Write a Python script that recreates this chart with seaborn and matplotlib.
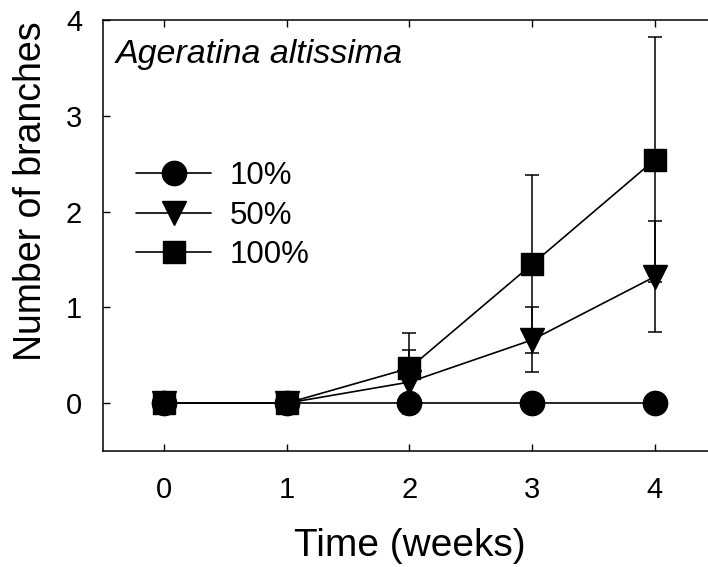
import numpy as np
import pandas as pd
import matplotlib
matplotlib.use("Agg")
import matplotlib.pyplot as plt
import seaborn as sns

weeks = [0, 1, 2, 3, 4]
series_names = ["10%", "50%", "100%"]
branches_10 = [0.0, 0.0, 0.0, 0.0, 0.0]
branches_50 = [0.0, 0.0, 0.22, 0.66, 1.32]
branches_100 = [0.0, 0.0, 0.365, 1.45, 2.54]
err_10 = [0.0, 0.0, 0.0, 0.0, 0.0]
err_50 = [0.0, 0.0, 0.33, 0.34, 0.58]
err_100 = [0.0, 0.0, 0.365, 0.93, 1.28]
x_ticks = [0, 1, 2, 3, 4]
y_ticks = [0, 1, 2, 3, 4]

sns.set_style("ticks")
plt.rcParams["font.family"] = ["Liberation Sans", "DejaVu Sans"]
plt.rcParams["text.color"] = "black"
plt.rcParams["axes.labelcolor"] = "black"
plt.rcParams["xtick.color"] = "black"
plt.rcParams["ytick.color"] = "black"

fig = plt.figure(figsize=(7.08, 5.67), dpi=100)
ax = fig.add_axes([103 / 708, 116 / 567, 613 / 708, 431 / 567])

vals = [branches_10, branches_50, branches_100]
errs = [err_10, err_50, err_100]
markers = ["o", "v", "s"]
msizes = [17.5, 17.5, 16.5]

rows = []
for name, v, e in zip(series_names, vals, errs):
    for w, yv, ev in zip(weeks, v, e):
        rows.append({"week": w, "branches": yv, "err": ev, "conc": name})
df = pd.DataFrame(rows)

# error bars first (behind markers)
for name in series_names:
    d = df[df["conc"] == name]
    ax.errorbar(d["week"], d["branches"], yerr=d["err"], fmt="none",
                ecolor="black", elinewidth=1.1, capsize=5, capthick=1.1, zorder=2)

for name, m, ms in zip(series_names, markers, msizes):
    d = df[df["conc"] == name]
    sns.lineplot(data=d, x="week", y="branches", ax=ax, color="black",
                 marker=m, markersize=ms, markeredgewidth=1,
                 markerfacecolor="black", markeredgecolor="black",
                 linewidth=1.2, label=name, zorder=3)

ax.set_xlim(-0.5, 4.5)
ax.set_ylim(-0.5, 4)
ax.set_xticks(x_ticks)
ax.set_yticks(y_ticks)
ax.set_xticklabels([str(t) for t in x_ticks])
ax.set_yticklabels([str(t) for t in y_ticks])
ax.tick_params(direction="in", length=5, width=1, top=True, right=True,
               labelsize=21, colors="black")
ax.tick_params(axis="x", pad=18)
ax.tick_params(axis="y", pad=15)
for sp in ax.spines.values():
    sp.set_linewidth(1.1)
    sp.set_color("black")

ax.set_xlabel("Time (weeks)", fontsize=28, labelpad=17, color="black")
ax.set_ylabel("Number of branches", fontsize=27, color="black")
ax.yaxis.set_label_coords(-0.088, 0.603)

ax.text(0.02, 0.90, "Ageratina altissima", transform=ax.transAxes,
        fontsize=24.5, style="italic", va="baseline", ha="left", color="black")

leg = ax.legend(loc="upper left", bbox_to_anchor=(0.054, 0.672), frameon=False,
                fontsize=22.5, handlelength=2.4, handletextpad=0.6,
                labelspacing=0.3, borderpad=0, borderaxespad=0, numpoints=1)
for t in leg.get_texts():
    t.set_color("black")

fig.savefig("out.png", dpi=100)
